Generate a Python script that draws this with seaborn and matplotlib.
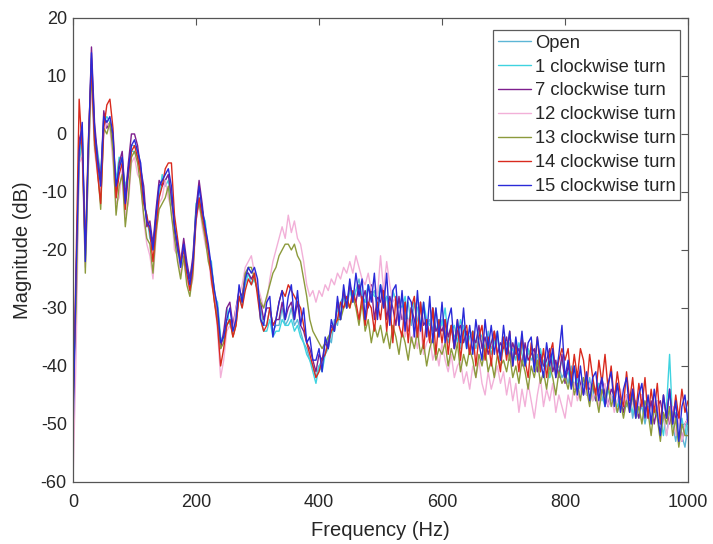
import numpy as np
import pandas as pd
from matplotlib import pyplot as plt
import seaborn as sns

# frequency bins (Hz), 5 Hz spacing
freq = np.arange(0, 1001, 5)

# magnitudes (dB), one list per valve setting
open_valve = [
    -45, -29, -5, -1, -21, -3, 13, 0, -4, -8, 3, 2, 1, -1, -9, -5, -4, -11, -6, -2,
    -2, -3, -7, -11, -15, -17, -20, -14, -9, -8, -8, -7, -11, -16, -20, -23, -19, -23, -25, -22,
    -13, -9, -13, -16, -20, -23, -27, -30, -36, -35, -32, -32, -34, -32, -27, -29, -25, -24, -25, -24,
    -27, -30, -33, -33, -30, -34, -33, -33, -30, -33, -32, -30, -33, -32, -34, -36, -37, -39, -40, -42,
    -40, -39, -38, -35, -36, -32, -33, -29, -28, -30, -26, -29, -27, -25, -28, -29, -26, -28, -27, -30,
    -26, -29, -28, -32, -27, -29, -30, -28, -32, -29, -33, -29, -32, -34, -30, -33, -32, -34, -30, -35,
    -32, -34, -36, -33, -35, -34, -37, -33, -36, -35, -34, -37, -35, -36, -38, -34, -37, -36, -35, -39,
    -36, -38, -36, -39, -37, -39, -36, -40, -38, -37, -40, -38, -41, -39, -40, -42, -39, -41, -40, -42,
    -41, -43, -40, -44, -42, -44, -43, -45, -42, -46, -44, -43, -46, -44, -47, -45, -46, -48, -45, -47,
    -47, -45, -49, -46, -48, -47, -50, -47, -49, -48, -46, -50, -49, -52, -48, -50, -53, -49, -52, -54,
    -50]

turn_1 = [
    -47, -28, -4, 0, -22, -4, 12, 0, -3, -7, 2, 3, 2, -2, -8, -4, -5, -9, -7, -3,
    -3, -4, -6, -12, -14, -18, -19, -15, -11, -7, -9, -8, -12, -15, -21, -22, -20, -24, -24, -23,
    -12, -11, -14, -15, -21, -22, -28, -29, -35, -36, -30, -33, -33, -32, -28, -30, -26, -24, -26, -25,
    -27, -32, -34, -34, -32, -35, -34, -34, -32, -33, -33, -32, -34, -33, -35, -36, -38, -39, -41, -43,
    -40, -41, -38, -37, -34, -34, -30, -32, -28, -30, -27, -29, -27, -26, -28, -29, -26, -27, -28, -28,
    -26, -30, -28, -29, -27, -29, -29, -30, -28, -33, -30, -29, -30, -33, -29, -32, -33, -30, -34, -32,
    -33, -30, -35, -34, -33, -36, -32, -34, -37, -35, -34, -36, -34, -35, -37, -35, -38, -36, -34, -39,
    -37, -36, -38, -37, -39, -36, -38, -40, -37, -39, -38, -41, -37, -40, -39, -42, -38, -40, -41, -39,
    -42, -41, -43, -40, -43, -44, -42, -45, -43, -44, -46, -43, -45, -47, -44, -46, -45, -47, -45, -48,
    -46, -45, -48, -47, -49, -46, -48, -47, -50, -48, -46, -49, -52, -47, -38, -50, -48, -53, -49, -52,
    -48]

turn_7 = [
    -49, -26, -1, 1, -21, -3, 15, 2, -4, -8, 4, 1, 2, -1, -11, -5, -3, -11, -5, 0,
    0, -2, -6, -9, -16, -15, -19, -13, -8, -9, -8, -7, -11, -17, -20, -22, -18, -22, -25, -21,
    -13, -8, -12, -17, -20, -24, -28, -32, -37, -34, -30, -29, -33, -30, -27, -28, -24, -24, -25, -24,
    -27, -29, -32, -30, -30, -33, -32, -32, -29, -32, -30, -29, -32, -29, -33, -34, -36, -37, -39, -41,
    -38, -39, -36, -37, -33, -34, -29, -32, -27, -30, -26, -28, -29, -26, -29, -27, -30, -26, -32, -28,
    -29, -26, -32, -28, -30, -33, -28, -32, -29, -34, -30, -32, -35, -29, -33, -32, -35, -30, -34, -33,
    -34, -32, -35, -33, -37, -34, -33, -36, -34, -38, -35, -36, -33, -37, -35, -38, -36, -34, -38, -36,
    -37, -35, -39, -36, -38, -37, -40, -36, -39, -38, -37, -41, -38, -40, -39, -37, -41, -39, -42, -38,
    -43, -40, -42, -44, -41, -43, -45, -42, -44, -43, -46, -44, -42, -45, -47, -44, -45, -43, -46, -48,
    -45, -47, -44, -47, -49, -45, -47, -49, -46, -50, -47, -46, -49, -48, -50, -47, -49, -48, -53, -50,
    -49]

turn_12 = [
    -60, -38, -5, -4, -23, -6, 9, -3, -7, -11, 0, 2, 1, -5, -12, -11, -6, -14, -12, -5,
    -4, -7, -8, -15, -19, -21, -25, -18, -12, -11, -8, -11, -13, -20, -21, -24, -22, -25, -27, -25,
    -15, -12, -16, -19, -21, -26, -28, -34, -42, -39, -34, -33, -34, -30, -28, -26, -23, -22, -21, -24,
    -26, -28, -30, -29, -25, -22, -20, -18, -16, -18, -14, -17, -15, -18, -19, -22, -26, -28, -27, -29,
    -27, -28, -26, -27, -25, -26, -24, -25, -23, -24, -22, -24, -21, -23, -25, -26, -24, -27, -25, -28,
    -21, -27, -22, -26, -29, -28, -33, -30, -35, -32, -36, -34, -37, -33, -38, -36, -35, -39, -37, -40,
    -36, -39, -41, -38, -42, -40, -39, -43, -41, -44, -40, -42, -39, -43, -45, -41, -44, -42, -40, -43,
    -41, -45, -42, -46, -43, -48, -44, -47, -43, -46, -49, -45, -42, -47, -44, -46, -43, -48, -45, -47,
    -49, -45, -47, -43, -46, -44, -42, -45, -43, -46, -44, -47, -45, -43, -47, -45, -48, -46, -44, -47,
    -45, -48, -46, -49, -47, -45, -49, -47, -50, -48, -46, -50, -48, -52, -49, -47, -52, -49, -53, -50,
    -49]

turn_13 = [
    -43, -30, -2, -1, -24, -5, 11, -2, -6, -13, 1, 0, 2, -3, -14, -9, -7, -16, -11, -4,
    -3, -5, -9, -14, -18, -19, -24, -17, -13, -12, -11, -9, -14, -18, -22, -25, -21, -26, -28, -24,
    -14, -12, -15, -18, -22, -24, -29, -32, -37, -36, -33, -32, -35, -33, -28, -29, -24, -23, -23, -25,
    -27, -29, -30, -28, -26, -24, -23, -21, -20, -19, -19, -20, -19, -21, -22, -25, -28, -32, -34, -35,
    -36, -37, -36, -35, -34, -33, -32, -32, -30, -29, -30, -28, -30, -33, -29, -34, -32, -36, -33, -35,
    -33, -36, -34, -37, -33, -35, -38, -34, -36, -39, -35, -37, -34, -38, -36, -40, -37, -35, -39, -37,
    -38, -36, -40, -37, -39, -36, -41, -38, -40, -37, -39, -42, -38, -40, -37, -41, -39, -42, -38, -40,
    -39, -41, -38, -42, -40, -43, -39, -41, -44, -40, -42, -39, -43, -41, -44, -40, -42, -45, -41, -43,
    -42, -44, -41, -45, -43, -46, -42, -44, -47, -43, -45, -48, -44, -46, -43, -47, -45, -48, -46, -49,
    -46, -48, -45, -49, -47, -50, -46, -48, -52, -47, -49, -53, -48, -50, -47, -52, -49, -54, -50, -52,
    -52]

turn_14 = [
    -48, -22, 6, -3, -20, -1, 12, -1, -7, -12, 1, 5, 6, 1, -11, -7, -5, -13, -7, -3,
    -2, -4, -7, -12, -14, -17, -22, -16, -11, -9, -6, -5, -5, -14, -18, -22, -20, -24, -27, -23,
    -15, -11, -14, -17, -20, -25, -29, -33, -40, -37, -33, -32, -35, -33, -28, -30, -27, -25, -26, -24,
    -28, -32, -34, -33, -30, -33, -32, -29, -27, -28, -26, -27, -28, -29, -30, -33, -36, -38, -40, -42,
    -41, -39, -38, -36, -34, -33, -32, -29, -30, -28, -30, -27, -29, -32, -28, -33, -29, -30, -34, -29,
    -32, -27, -34, -29, -36, -28, -33, -35, -29, -36, -30, -28, -35, -29, -37, -32, -36, -30, -38, -32,
    -36, -32, -38, -33, -37, -32, -39, -34, -33, -38, -34, -40, -35, -33, -39, -35, -40, -34, -38, -41,
    -35, -39, -34, -40, -36, -41, -35, -39, -42, -36, -40, -35, -41, -37, -42, -38, -36, -42, -39, -37,
    -39, -37, -43, -38, -42, -37, -39, -44, -38, -42, -45, -39, -43, -38, -44, -40, -46, -41, -45, -47,
    -41, -46, -42, -48, -43, -47, -42, -49, -44, -48, -43, -50, -45, -49, -44, -50, -45, -49, -44, -48,
    -46]

turn_15 = [
    -52, -24, -3, 2, -22, -2, 14, 1, -5, -9, 3, 2, 3, 0, -9, -6, -4, -12, -6, -2,
    -1, -3, -5, -11, -15, -16, -20, -14, -9, -8, -7, -6, -9, -16, -19, -23, -19, -23, -26, -22,
    -14, -9, -13, -16, -19, -23, -27, -30, -36, -35, -32, -30, -34, -32, -26, -29, -25, -23, -24, -23,
    -25, -32, -33, -29, -28, -35, -32, -29, -27, -32, -28, -26, -32, -27, -33, -30, -36, -35, -39, -39,
    -37, -41, -35, -37, -32, -34, -28, -32, -26, -30, -25, -29, -24, -28, -25, -32, -26, -29, -24, -32,
    -26, -30, -24, -33, -27, -26, -33, -27, -34, -28, -29, -35, -27, -34, -29, -35, -28, -36, -30, -35,
    -29, -36, -32, -30, -37, -32, -36, -30, -37, -33, -38, -32, -36, -39, -32, -37, -33, -38, -34, -39,
    -33, -38, -34, -40, -35, -39, -34, -40, -36, -35, -41, -35, -39, -42, -36, -40, -37, -42, -38, -33,
    -42, -39, -44, -40, -45, -40, -45, -41, -46, -42, -41, -46, -42, -47, -43, -41, -47, -43, -48, -44,
    -42, -48, -44, -49, -45, -43, -49, -45, -50, -44, -48, -52, -45, -49, -44, -50, -46, -53, -47, -45,
    -50]

labels = ["Open", "1 clockwise turn", "7 clockwise turn", "12 clockwise turn",
          "13 clockwise turn", "14 clockwise turn", "15 clockwise turn"]
colors = ["#5cb6d6", "#3fd3e0", "#7e1f8e", "#f2b0d8", "#8c9a3c", "#d92a1e", "#2a2ad8"]

series = [open_valve, turn_1, turn_7, turn_12, turn_13, turn_14, turn_15]
frames = []
for name, vals in zip(labels, series):
    assert len(vals) == len(freq), name
    frames.append(pd.DataFrame({"Frequency": freq, "Magnitude": vals, "Setting": name}))
df = pd.concat(frames, ignore_index=True)

sns.set_style("white")
plt.rcParams["font.family"] = ["Liberation Sans", "DejaVu Sans"]
plt.rcParams["axes.unicode_minus"] = False

fig = plt.figure(figsize=(7.13, 5.44), dpi=100)
ax = fig.add_axes([0.1024, 0.114, 0.8626, 0.853])
sns.lineplot(data=df, x="Frequency", y="Magnitude", hue="Setting", hue_order=labels,
             palette=dict(zip(labels, colors)), estimator=None, sort=False,
             linewidth=1.0, ax=ax)

ax.set_xlim(0, 1000)
ax.set_ylim(-60, 20)
ax.set_xticks(range(0, 1001, 200))
ax.set_yticks(range(-60, 21, 10))
ax.set_xlabel("Frequency (Hz)", fontsize=14.5, color="#262626", labelpad=7)
ax.set_ylabel("Magnitude (dB)", fontsize=14.5, color="#262626", labelpad=6)
ax.tick_params(direction="in", length=5, width=0.8, labelsize=13, colors="#262626",
               top=True, right=True, color="#555555")
ax.tick_params(axis="x", pad=9)
ax.tick_params(axis="y", pad=4.5)
for sp in ax.spines.values():
    sp.set_visible(True)
    sp.set_color("#555555")
    sp.set_linewidth(0.9)

handles, _ = ax.get_legend_handles_labels()
leg = ax.legend(handles, labels, loc="upper right", bbox_to_anchor=(0.9537, 0.9449),
                bbox_transform=fig.transFigure, fontsize=13.2, frameon=True,
                fancybox=False, handlelength=1.8, handletextpad=0.2,
                borderpad=0.25, labelspacing=0.38, borderaxespad=0)
leg.get_frame().set_edgecolor("#333333")
leg.get_frame().set_linewidth(0.9)
for line in leg.get_lines():
    line.set_linewidth(1.0)

fig.savefig("out.png", dpi=100)
